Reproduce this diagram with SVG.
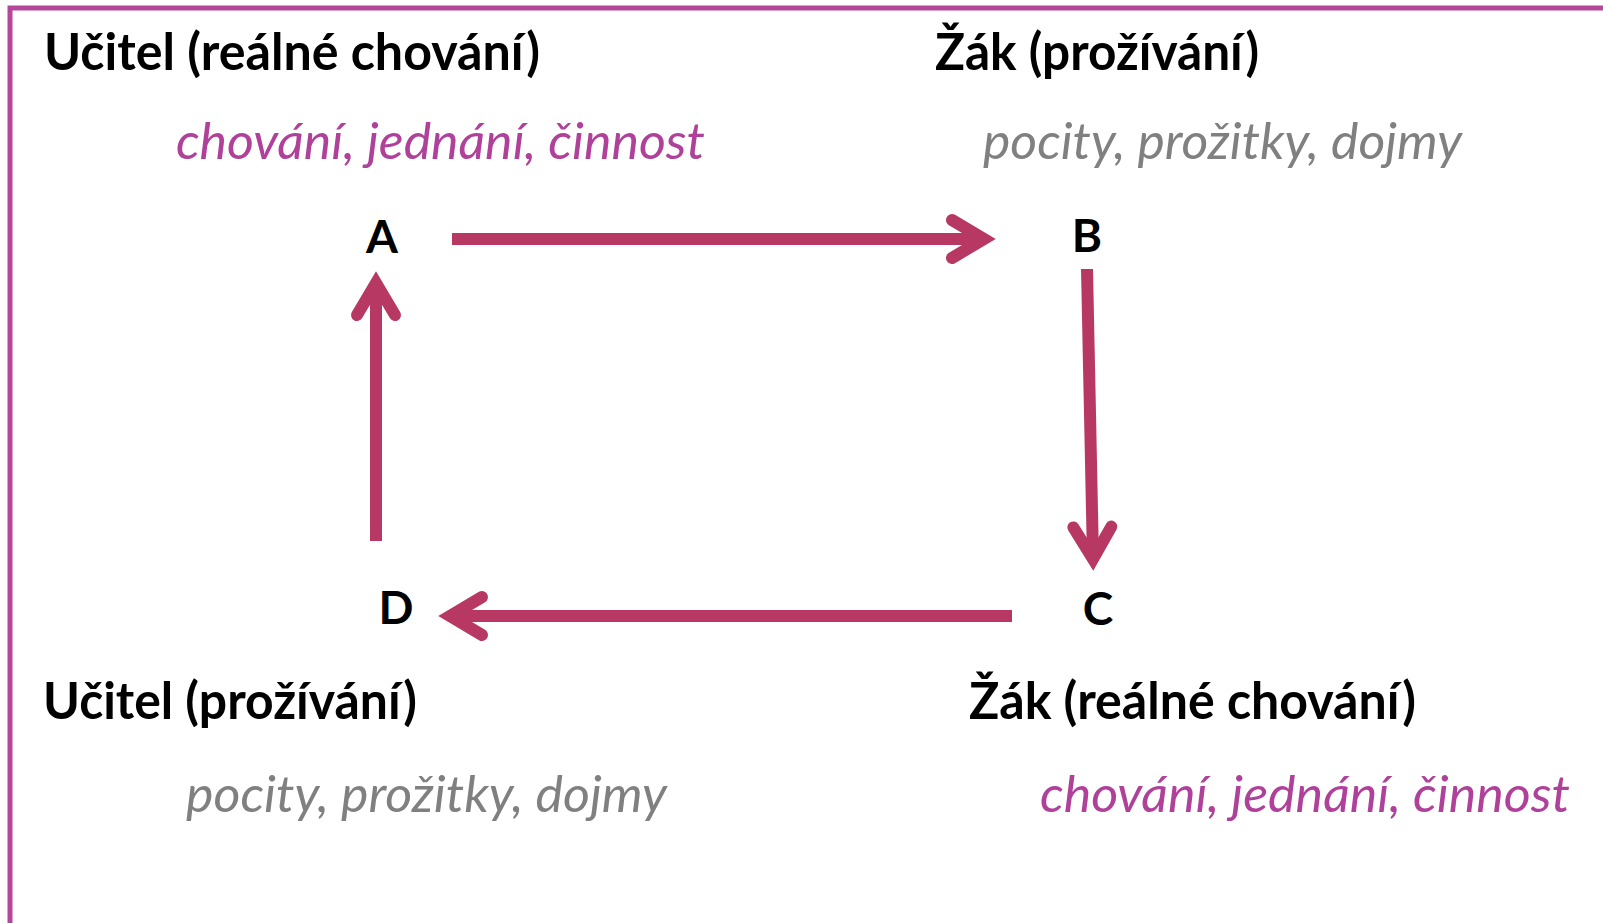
<svg xmlns="http://www.w3.org/2000/svg" width="1603" height="923" viewBox="0 0 1603 923">
  <style>
    .title { font-family: Lato, "Open Sans", "Liberation Sans", sans-serif; font-weight: bold; font-size: 52px; fill: #000000; }
    .letter { font-family: Lato, "Open Sans", "Liberation Sans", sans-serif; font-weight: bold; font-size: 46px; fill: #000000; text-anchor: middle; }
    .act { font-family: Lato, "Open Sans", "Liberation Sans", sans-serif; font-style: italic; font-size: 51px; fill: #b0419a; }
    .feel { font-family: Lato, "Open Sans", "Liberation Sans", sans-serif; font-style: italic; font-size: 51px; fill: #808080; }
    .conn { stroke: #b83864; stroke-width: 12; fill: none; stroke-linecap: butt; marker-end: url(#head); }
  </style>
  <defs>
    <marker id="head" markerUnits="userSpaceOnUse" orient="auto" refX="0" refY="0" markerWidth="80" markerHeight="80" overflow="visible">
      <path d="M -32,-19 L 0,0 L -32,19" fill="none" stroke="#b83864" stroke-width="12" stroke-linecap="round" stroke-linejoin="miter" stroke-miterlimit="10"/>
    </marker>
  </defs>
  <rect x="0" y="0" width="1603" height="923" fill="#ffffff"/>
  <rect x="10" y="8" width="1700" height="1000" fill="none" stroke="#b5479b" stroke-width="5"/>

  <g id="connectors">
    <line class="conn" x1="452" y1="239" x2="984" y2="239"/>
    <line class="conn" x1="1087" y1="269" x2="1093" y2="559"/>
    <line class="conn" x1="1012" y1="616" x2="450" y2="616"/>
    <line class="conn" x1="376" y1="541" x2="376" y2="283"/>
  </g>

  <g id="nodeA">
    <text class="title" x="44" y="70" textLength="496" lengthAdjust="spacingAndGlyphs">Učitel (reálné chování)</text>
    <text class="act" x="176" y="159" textLength="529" lengthAdjust="spacingAndGlyphs">chování, jednání, činnost</text>
    <text class="letter" x="382" y="253">A</text>
  </g>
  <g id="nodeB">
    <text class="title" x="935" y="70" textLength="324" lengthAdjust="spacingAndGlyphs">Žák (prožívání)</text>
    <text class="feel" x="983" y="159" textLength="479" lengthAdjust="spacingAndGlyphs">pocity, prožitky, dojmy</text>
    <text class="letter" x="1087" y="252">B</text>
  </g>
  <g id="nodeC">
    <text class="letter" x="1098" y="625">C</text>
    <text class="title" x="969" y="719" textLength="447" lengthAdjust="spacingAndGlyphs">Žák (reálné chování)</text>
    <text class="act" x="1040" y="812" textLength="530" lengthAdjust="spacingAndGlyphs">chování, jednání, činnost</text>
  </g>
  <g id="nodeD">
    <text class="letter" x="396" y="624">D</text>
    <text class="title" x="43" y="719" textLength="374" lengthAdjust="spacingAndGlyphs">Učitel (prožívání)</text>
    <text class="feel" x="186" y="812" textLength="481" lengthAdjust="spacingAndGlyphs">pocity, prožitky, dojmy</text>
  </g>
</svg>
